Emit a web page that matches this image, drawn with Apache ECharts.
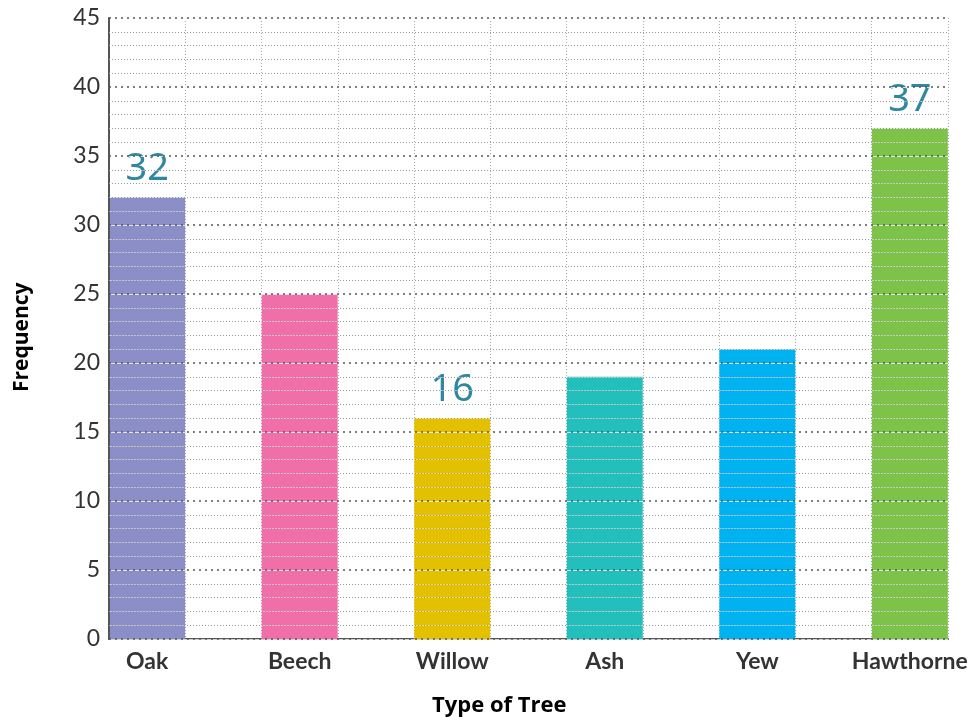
<!DOCTYPE html>
<html>
<head>
<meta charset="utf-8">
<title>Type of Tree</title>
<script src="https://cdn.jsdelivr.net/npm/echarts@6/dist/echarts.min.js"></script>
<style>
  html, body { margin: 0; padding: 0; background: #fff; }
  #chart { width: 978px; height: 722px; }
</style>
</head>
<body>
<div id="chart"></div>
<script>
const trees = ["Oak", "Beech", "Willow", "Ash", "Yew", "Hawthorne"];
const frequency = [32, 25, 16, 19, 21, 37];
const labelled = ["Oak", "Willow", "Hawthorne"];
const barColors = ["#8c8fc7", "#f16fa8", "#e3c000", "#22bfbd", "#00b2ef", "#7dc34a"];

// each tree takes 2 units on the x axis: bar then gap
const slot = (i) => 2 * i + 0.5;

const myChart = echarts.init(document.getElementById("chart"));

const option = {
  animation: false,
  grid: { left: 109, right: 30, top: 18, bottom: 83, containLabel: false },
  xAxis: {
    type: "value",
    min: 0,
    max: 11,
    interval: 1,
    axisLine: { show: true, onZero: false, lineStyle: { color: "#555", width: 2 } },
    axisTick: { show: false },
    splitLine: { show: true, lineStyle: { color: "#aaa", type: [1, 2], width: 1 } },
    axisLabel: {
      customValues: trees.map((t, i) => slot(i)),
      formatter: (v) => trees[(v - 0.5) / 2] || "",
      color: "#333",
      fontFamily: "Lato",
      fontWeight: "bold",
      fontSize: 23,
      margin: 11,
    },
  },
  yAxis: [
    {
      // white backing under the dotted lines, drawn over the bars
      type: "value",
      min: 0,
      max: 45,
      interval: 5,
      z: 3,
      axisLine: { show: true, lineStyle: { color: "#555", width: 2 } },
      axisTick: { show: false },
      axisLabel: { color: "#333", fontSize: 23, fontFamily: "Lato", margin: 9 },
      splitLine: { show: true, lineStyle: { color: "rgba(255,255,255,0.75)", width: 1 } },
      minorTick: { show: false, splitNumber: 5 },
      minorSplitLine: { show: true, lineStyle: { color: "rgba(255,255,255,0.45)", width: 1 } },
    },
    {
      type: "value",
      min: 0,
      max: 45,
      interval: 5,
      z: 4,
      axisLine: { show: false },
      axisTick: { show: false },
      axisLabel: { show: false },
      splitLine: { show: true, lineStyle: { color: "#555", type: [2, 4], width: 1.5 } },
      minorTick: { show: false, splitNumber: 5 },
      minorSplitLine: { show: true, lineStyle: { color: "#999", type: [1, 2], width: 1 } },
    },
  ],
  series: [
    {
      type: "bar",
      barWidth: 76,
      data: trees.map((t, i) => ({
        value: [slot(i), frequency[i]],
        itemStyle: { color: barColors[i] },
        label: { show: labelled.includes(t) },
      })),
      label: {
        position: "top",
        distance: 9,
        color: "#2f87a0",
        fontSize: 38,
        fontFamily: "Noto Sans",
        formatter: (p) => p.value[1],
      },
    },
  ],
  graphic: [
    {
      type: "text",
      left: 432,
      top: 695,
      style: {
        text: "Type of Tree",
        fontSize: 22,
        fontWeight: "bold",
        fontFamily: "Open Sans",
        fill: "#000",
      },
    },
    {
      type: "text",
      x: 12,
      y: 392,
      rotation: Math.PI / 2,
      style: {
        text: "Frequency",
        fontSize: 21,
        fontWeight: "bold",
        fontFamily: "Open Sans",
        fill: "#000",
      },
    },
  ],
};

myChart.setOption(option);
</script>
</body>
</html>
